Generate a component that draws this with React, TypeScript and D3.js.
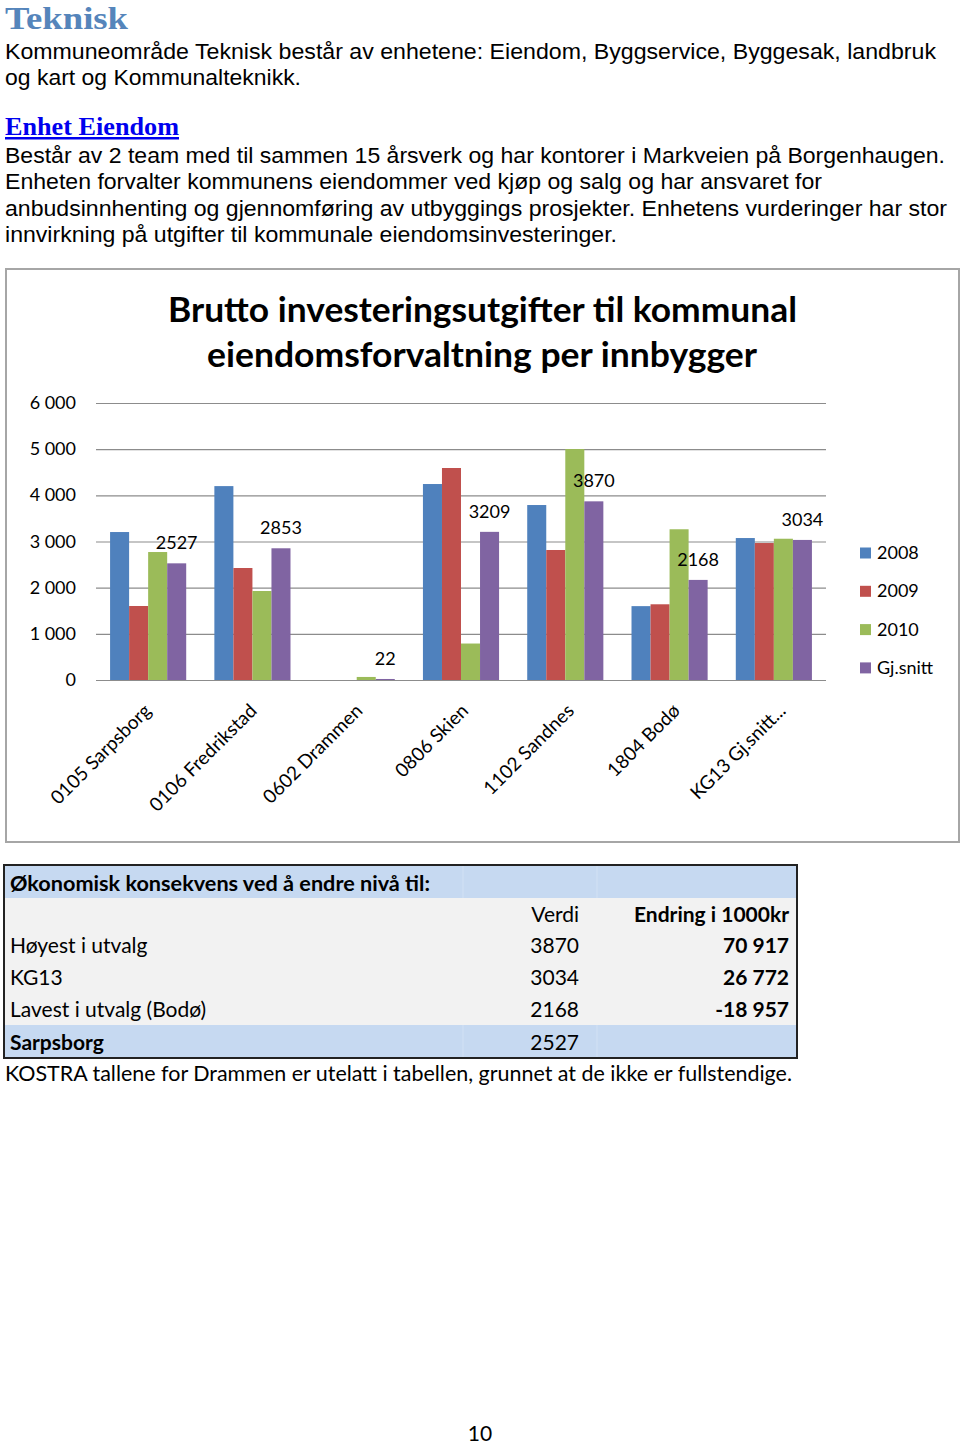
import React, { useEffect, useRef } from 'react';
import * as d3 from 'd3';

// chart data
const categories = ['0105 Sarpsborg', '0106 Fredrikstad', '0602 Drammen', '0806 Skien', '1102 Sandnes', '1804 Bodø', 'KG13 Gj.snitt...'];
const seriesNames = ['2008', '2009', '2010', 'Gj.snitt'];
const values2008 = [3205, 4200, 0, 4245, 3790, 1600, 3075];
const values2009 = [1603, 2426, 0, 4592, 2816, 1640, 2967];
const values2010 = [2772, 1928, 66, 790, 5003, 3265, 3060];
const valuesSnitt = [2527, 2853, 22, 3209, 3870, 2168, 3034];
const yTicks = [0, 1000, 2000, 3000, 4000, 5000, 6000];
const colors = ['#4f81bd', '#c0504d', '#9bbb59', '#8064a2'];

// page text
const introLines = [
  { text: 'Kommuneområde Teknisk består av enhetene: Eiendom, Byggservice, Byggesak, landbruk', y: 59, w: 931 },
  { text: 'og kart og Kommunalteknikk.', y: 85, w: 296 },
];
const eiendomLines = [
  { text: 'Består av 2 team med til sammen 15 årsverk og har kontorer i Markveien på Borgenhaugen.', y: 163, w: 940 },
  { text: 'Enheten forvalter kommunens eiendommer ved kjøp og salg og har ansvaret for', y: 189, w: 817 },
  { text: 'anbudsinnhenting og gjennomføring av utbyggings prosjekter. Enhetens vurderinger har stor', y: 216, w: 942 },
  { text: 'innvirkning på utgifter til kommunale eiendomsinvesteringer.', y: 242, w: 612 },
];

// table
const tableRows = [
  { label: 'Høyest i utvalg', verdi: '3870', endring: '70 917' },
  { label: 'KG13', verdi: '3034', endring: '26 772' },
  { label: 'Lavest i utvalg (Bodø)', verdi: '2168', endring: '-18 957' },
];

const calibri = 'Lato, "Open Sans", sans-serif';

const Chart = () => {
  const ref = useRef<SVGGElement>(null);

  useEffect(() => {
    const g = d3.select(ref.current);
    g.selectAll('*').remove();

    const data = categories.map((c, i) => ({
      cat: c,
      vals: [values2008[i], values2009[i], values2010[i], valuesSnitt[i]],
    }));

    const x = d3.scaleBand().domain(categories).range([96, 826]).paddingInner(0.27).paddingOuter(0.135);
    const xs = d3.scaleBand().domain(seriesNames).range([0, x.bandwidth()]);
    const y = d3.scaleLinear().domain([0, 6000]).range([680, 403]);
    const fmt = d3.formatLocale({ thousands: ' ', grouping: [3], decimal: ',', currency: ['', ''] }).format(',d');

    // grid
    g.selectAll('line.grid')
      .data(yTicks)
      .join('line')
      .attr('x1', 96)
      .attr('x2', 826)
      .attr('y1', d => y(d) + 0.5)
      .attr('y2', d => y(d) + 0.5)
      .attr('stroke', '#8c8c8c')
      .attr('stroke-width', 1.2);

    g.selectAll('text.ytick')
      .data(yTicks)
      .join('text')
      .attr('x', 76)
      .attr('y', d => y(d) + 6)
      .attr('text-anchor', 'end')
      .style('font-family', calibri)
      .style('font-size', '18px')
      .text(d => fmt(d));

    // bars
    const groups = g.selectAll('g.cat')
      .data(data)
      .join('g')
      .attr('transform', d => `translate(${x(d.cat)},0)`);

    groups.selectAll('rect')
      .data(d => d.vals.map((v, i) => ({ v, i })))
      .join('rect')
      .attr('x', d => xs(seriesNames[d.i])!)
      .attr('width', xs.bandwidth())
      .attr('y', d => y(d.v))
      .attr('height', d => y(0) - y(d.v))
      .attr('fill', d => colors[d.i]);

    // labels for Gj.snitt
    groups.append('text')
      .attr('x', xs('Gj.snitt')! + xs.bandwidth() / 2)
      .attr('y', d => y(d.vals[3]) - 14)
      .attr('text-anchor', 'middle')
      .style('font-family', calibri)
      .style('font-size', '18px')
      .text(d => d.vals[3]);

    // category labels
    g.selectAll('text.cat')
      .data(categories)
      .join('text')
      .attr('transform', (d, i) => `translate(${x(d)! + x.bandwidth() / 2 + 4 + i * 1.5},${712}) rotate(-45)`)
      .attr('text-anchor', 'end')
      .style('font-family', calibri)
      .style('font-size', '19px')
      .text(d => d);

    // legend
    const leg = g.selectAll('g.leg')
      .data(seriesNames)
      .join('g')
      .attr('transform', (d, i) => `translate(860,${553 + i * 38.3})`);
    leg.append('rect').attr('x', 0).attr('y', -5.5).attr('width', 11).attr('height', 11).attr('fill', (d, i) => colors[i]);
    leg.append('text')
      .attr('x', 17)
      .attr('y', 6)
      .style('font-family', calibri)
      .style('font-size', '18px')
      .text(d => d);
  }, []);

  return <g ref={ref} />;
};

export default function App() {
  return (
    <svg width={960} height={1444} style={{ position: 'absolute', left: 0, top: 0, background: '#fff' }}>
      <rect width={960} height={1444} fill="#fff" />
      <text x={5} y={29} fill="#5585bb" fontFamily='"Liberation Serif", serif' fontWeight="bold" fontSize={32} textLength={123} lengthAdjust="spacingAndGlyphs">Teknisk</text>
      {introLines.map(l => (
        <text key={l.text} x={5} y={l.y} fontFamily='"Liberation Sans", Arial, sans-serif' fontSize={22} textLength={l.w} lengthAdjust="spacingAndGlyphs">{l.text}</text>
      ))}
      <text x={5} y={135} fill="#0000ee" fontFamily='"Liberation Serif", serif' fontWeight="bold" fontSize={25} textLength={174} lengthAdjust="spacingAndGlyphs" textDecoration="underline">Enhet Eiendom</text>
      {eiendomLines.map(l => (
        <text key={l.text} x={5} y={l.y} fontFamily='"Liberation Sans", Arial, sans-serif' fontSize={22} textLength={l.w} lengthAdjust="spacingAndGlyphs">{l.text}</text>
      ))}

      {/* chart box */}
      <rect x={6} y={269} width={953} height={573} fill="#fff" stroke="#a6a6a6" strokeWidth={2} />
      <text x={168} y={322} fontFamily={calibri} fontWeight="bold" fontSize={34} textLength={629} lengthAdjust="spacingAndGlyphs">Brutto investeringsutgifter til kommunal</text>
      <text x={207} y={367} fontFamily={calibri} fontWeight="bold" fontSize={34} textLength={550} lengthAdjust="spacingAndGlyphs">eiendomsforvaltning per innbygger</text>
      <Chart />

      {/* table */}
      <rect x={4} y={865} width={793} height={33} fill="#c6d9f1" />
      <rect x={4} y={898} width={793} height={127} fill="#f2f2f2" />
      <rect x={4} y={1025} width={793} height={33} fill="#c6d9f1" />
      <line x1={463} x2={463} y1={865} y2={898} stroke="#d2e1f4" />
      <line x1={597} x2={597} y1={865} y2={898} stroke="#d2e1f4" />
      <line x1={463} x2={463} y1={1025} y2={1058} stroke="#d2e1f4" />
      <line x1={597} x2={597} y1={1025} y2={1058} stroke="#d2e1f4" />
      <rect x={4} y={865} width={793} height={193} fill="none" stroke="#222" strokeWidth={2} />
      <g fontFamily={calibri} fontSize={21}>
        <text x={10} y={891} fontWeight="bold" textLength={420} lengthAdjust="spacingAndGlyphs">Økonomisk konsekvens ved å endre nivå til:</text>
        <text x={579} y={922} textAnchor="end">Verdi</text>
        <text x={789} y={922} textAnchor="end" fontWeight="bold">Endring i 1000kr</text>
        {tableRows.map((r, i) => (
          <g key={r.label}>
            <text x={10} y={953 + i * 32}>{r.label}</text>
            <text x={579} y={953 + i * 32} textAnchor="end">{r.verdi}</text>
            <text x={789} y={953 + i * 32} textAnchor="end" fontWeight="bold">{r.endring}</text>
          </g>
        ))}
        <text x={10} y={1050} fontWeight="bold">Sarpsborg</text>
        <text x={579} y={1050} textAnchor="end">2527</text>
        <text x={5} y={1081} textLength={787} lengthAdjust="spacingAndGlyphs">KOSTRA tallene for Drammen er utelatt i tabellen, grunnet at de ikke er fullstendige.</text>
        <text x={480} y={1441} textAnchor="middle">10</text>
      </g>
    </svg>
  );
}
